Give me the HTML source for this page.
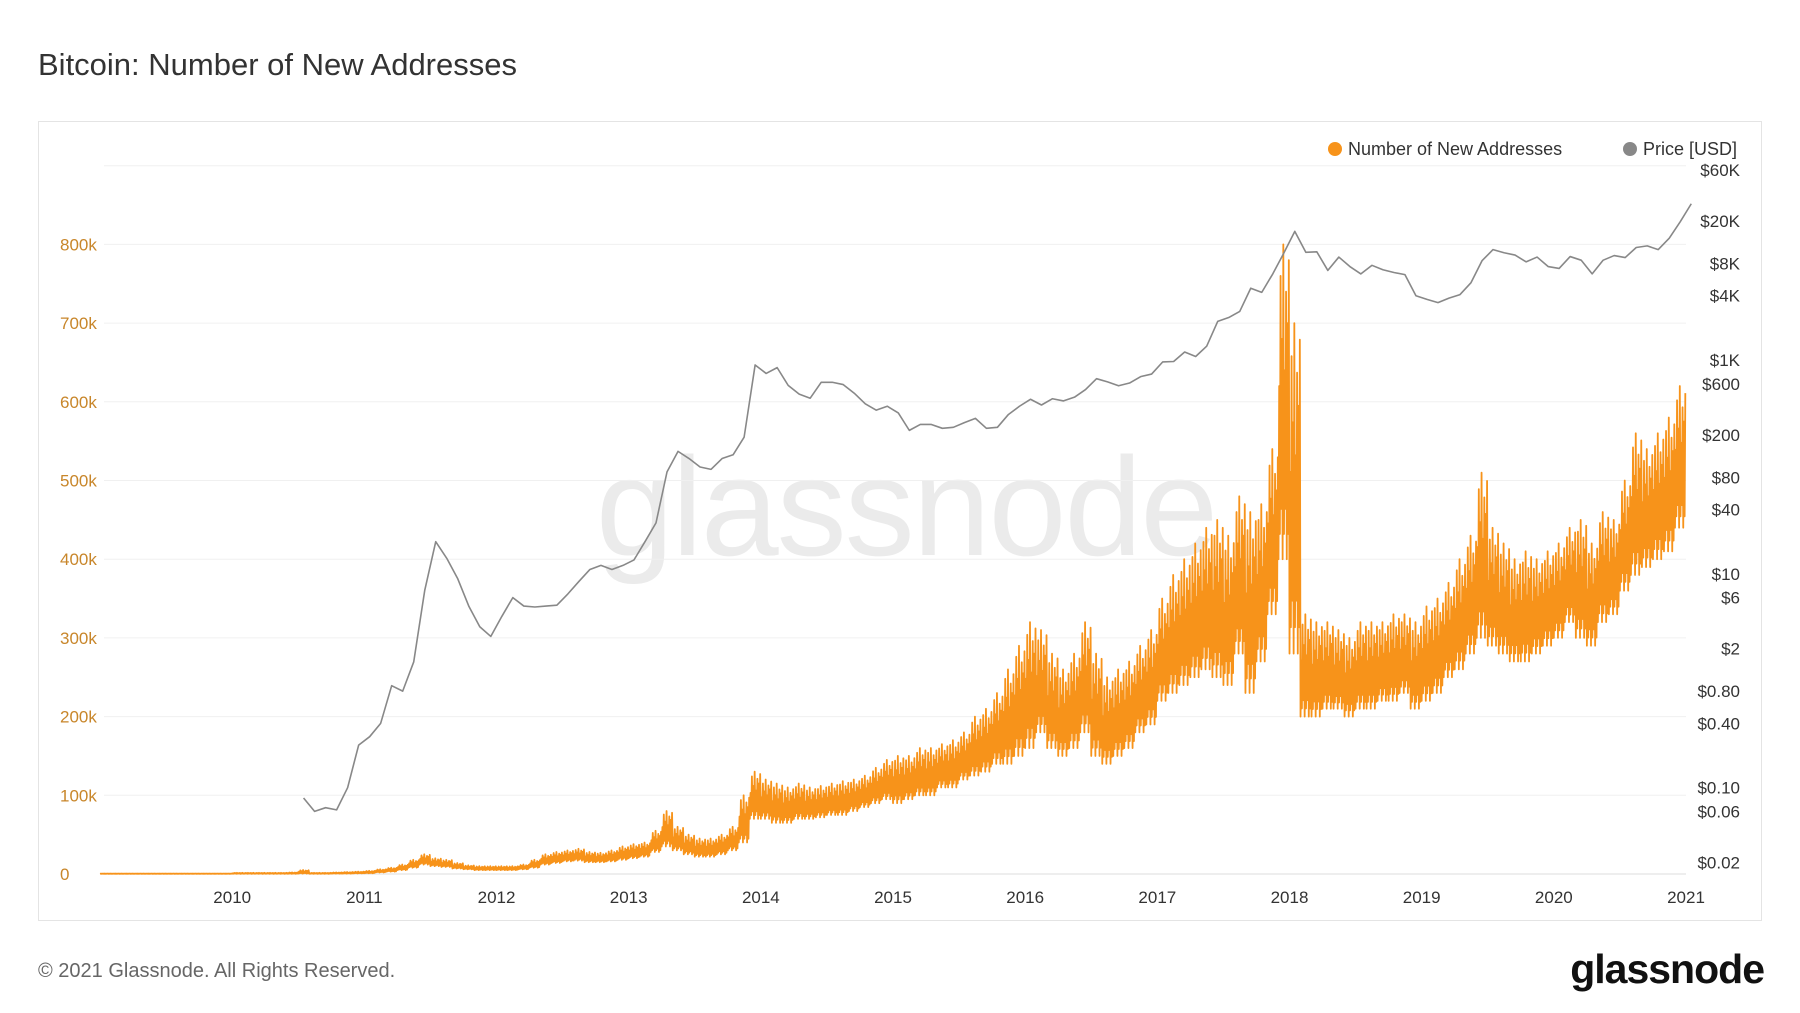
<!DOCTYPE html>
<html><head><meta charset="utf-8"><style>
body{margin:0;width:1800px;height:1013px;background:#fff;font-family:"Liberation Sans",sans-serif;overflow:hidden;position:relative}
#title{position:absolute;left:38px;top:47px;font-size:31px;color:#333}
#frame{position:absolute;left:38px;top:121px;width:1724px;height:800px;border:1px solid #e4e4e4;box-sizing:border-box}
#foot{position:absolute;left:38px;top:960px;font-size:20px;color:#666}
#logo{position:absolute;right:36px;top:946px;font-size:41px;font-weight:bold;color:#111;letter-spacing:-1px}
svg{position:absolute;left:0;top:0}
</style></head><body>
<div id="title">Bitcoin: Number of New Addresses</div>
<div id="frame"></div>
<div id="foot">© 2021 Glassnode. All Rights Reserved.</div>
<div id="logo">glassnode</div>
<svg id="chart" width="1800" height="1013"></svg>
<script>
const addrTicks=[0,100,200,300,400,500,600,700,800,900];
const priceTicks=[60000,20000,8000,4000,1000,600,200,80,40,10,6,2,0.8,0.4,0.1,0.06,0.02];
const priceLabels=["$60K","$20K","$8K","$4K","$1K","$600","$200","$80","$40","$10","$6","$2","$0.80","$0.40","$0.10","$0.06","$0.02"];
const years=[2010,2011,2012,2013,2014,2015,2016,2017,2018,2019,2020,2021];
const addrLow=[0.2,0.2,0.2,0.2,0.2,0.2,0.2,0.2,0.2,0.2,0.2,0.2,
0.3,0.3,0.3,0.3,0.3,0.3,0.5,0.3,0.3,0.5,0.5,0.8,
1,2,3,5,8,12,10,9,7,6,5,5,
5,5,6,8,12,14,16,17,15,15,16,18,
20,22,28,35,30,25,22,22,25,30,40,70,
70,65,65,70,70,72,75,75,80,85,90,95,
90,95,100,100,110,110,120,125,130,140,140,150,
160,180,160,150,160,180,150,140,150,160,180,190,
220,230,240,250,260,250,240,280,230,270,330,400,
280,200,200,210,210,200,210,210,220,220,230,210,
220,230,250,260,280,300,290,280,270,270,280,290,
300,320,300,290,320,330,360,380,390,400,410,440];
const addrHigh=[0.6,0.6,0.6,0.6,0.6,0.6,0.6,0.6,0.6,0.6,0.6,0.6,
1.5,1.5,1.5,1.5,1.5,2,5,1.5,1.5,2,2.5,3,
4,6,8,12,18,25,20,18,14,11,10,10,
10,10,12,18,25,28,30,32,28,27,30,35,
38,40,55,80,60,50,45,45,50,60,100,130,
120,115,110,115,110,112,115,118,120,125,135,145,
150,150,160,160,165,170,180,200,210,230,260,290,
320,310,280,260,280,320,280,250,260,270,290,310,
350,380,400,420,440,450,430,480,460,470,540,800,
700,330,320,320,310,300,320,320,320,330,330,320,
340,350,370,400,430,510,440,420,400,410,400,410,
420,440,450,420,460,450,500,560,540,560,580,620];
const priceStart=2010.54;
const price=[0.08,0.06,0.065,0.062,0.1,0.25,0.3,
0.4,0.9,0.8,1.5,7,20,14,9,5,3.2,2.6,4,
6,5,4.9,5,5.1,6.5,8.5,11,12,11,12,13.5,
20,30,90,140,120,100,95,120,130,190,900,750,
850,580,480,440,620,620,590,490,390,340,370,320,
220,250,250,230,235,260,285,230,235,310,370,430,
380,435,415,450,530,670,625,575,610,700,740,960,
970,1190,1080,1350,2300,2500,2850,4700,4300,6400,10000,16000,
10200,10300,6900,9200,7500,6400,7700,7000,6600,6300,4000,3700,
3450,3800,4100,5300,8500,10800,10100,9600,8300,9200,7500,7200,
9300,8600,6400,8600,9500,9100,11300,11700,10800,13800,19700,29000];
const NS="http://www.w3.org/2000/svg",svg=document.getElementById('chart');
const X0=104,X1=1686;
const xs=t=>X0+(t-2009.03)/(2021-2009.03)*(X1-X0);
const ya=v=>874-v*0.787;
const yp=v=>170+(Math.log10(60000)-Math.log10(v))*106.9;
function mk(tag,attrs,txt){const e=document.createElementNS(NS,tag);for(const k in attrs)e.setAttribute(k,attrs[k]);if(txt!==undefined)e.textContent=txt;svg.appendChild(e);return e;}
const wm=mk('text',{x:906,y:555,'font-size':140,'text-anchor':'middle',fill:'#ebebeb','letter-spacing':'-2'},'glassnode');


addrTicks.forEach(v=>{
 const g=mk('line',{x1:X0,x2:X1,y1:ya(v),y2:ya(v),stroke:v===0?'#ddd':'#f0f0f0','stroke-width':1});
 
 
 if(v<900){const t=mk('text',{x:60,y:ya(v)+6,'font-size':17,fill:'#c8862a'},v===0?'0':v+'k');
 
 }
});
priceTicks.forEach((v,i)=>{
 const t=mk('text',{x:1740,y:yp(v)+6,'font-size':17,fill:'#333','text-anchor':'end'},priceLabels[i]);
 
 
});
years.forEach(y=>{
 const t=mk('text',{x:xs(y),y:903,'font-size':17,fill:'#333','text-anchor':'middle'},String(y));
 
 
});
const fr=[0.55,0.9,0.7,1,0.6,0.85,0.75,0.95];
let pts=[];
addrLow.forEach((lo,i)=>{const t=2009+i/12;const hi=addrHigh[i];
 for(let k=0;k<8;k++){const f=fr[k];
  pts.push([xs(t+k/96),ya(lo+(hi-lo)*0.08*(k%3))]);
  pts.push([xs(t+(k+0.5)/96),ya(lo+(hi-lo)*f)]);}
});
const al=mk('polyline',{points:pts.map(p=>p.join(',')).join(' '),fill:'none',stroke:'#f7931a','stroke-width':1.8,'stroke-linejoin':'round'});


const pp=price.map((v,i)=>[xs(priceStart+i/12),yp(v)].join(',')).join(' ');
const pl=mk('polyline',{points:pp,fill:'none',stroke:'#888','stroke-width':1.6,'stroke-linejoin':'round'});


const d1=mk('circle',{cx:1335,cy:149,r:7,fill:'#f7931a'});


const l1=mk('text',{x:1348,y:155,'font-size':18,fill:'#333'},'Number of New Addresses');


const d2=mk('circle',{cx:1630,cy:149,r:7,fill:'#888'});


const l2=mk('text',{x:1643,y:155,'font-size':18,fill:'#333'},'Price [USD]');


</script>
</body></html>
